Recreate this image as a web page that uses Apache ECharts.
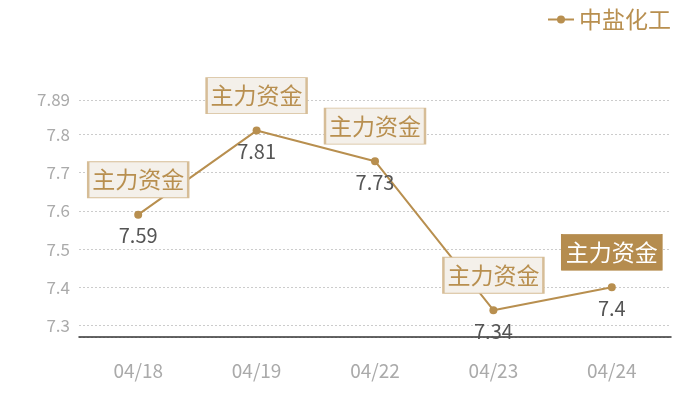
<!DOCTYPE html>
<html>
<head>
<meta charset="utf-8">
<script src="https://cdn.jsdelivr.net/npm/echarts@6/dist/echarts.min.js"></script>
<style>html,body{margin:0;padding:0;background:#fff;}#c{width:700px;height:400px;}</style>
</head>
<body>
<div id="c"></div>
<script>
var seriesName = '中盐化工';
var categories = ['04/18', '04/19', '04/22', '04/23', '04/24'];
var prices = [7.59, 7.81, 7.73, 7.34, 7.4];
var tags = ['主力资金', '主力资金', '主力资金', '主力资金', '主力资金'];
var yMin = 7.27;
var yMax = 7.89;

var gold = '#b88f4f';
var font = '"Noto Sans CJK SC", "Noto Sans", sans-serif';

var markData = categories.map(function (c, i) {
  var last = i === categories.length - 1;
  return {
    coord: [c, prices[i]],
    value: tags[i],
    itemStyle: last
      ? { color: '#b58c4e', borderColor: '#b58c4e', borderWidth: 1 }
      : { color: '#f4f0ea', borderColor: '#d6bd97', borderWidth: 1.5 },
    label: { color: last ? '#ffffff' : gold }
  };
});

var chart = echarts.init(document.getElementById('c'));
chart.setOption({
  animation: false,
  textStyle: { fontFamily: font },
  legend: {
    right: 24, top: 3,
    itemWidth: 26, itemHeight: 10, itemGap: 8,
    textStyle: { fontSize: 23, color: gold, fontFamily: font },
    data: [seriesName]
  },
  grid: { left: 79, right: 29, top: 100, bottom: 63, containLabel: false },
  xAxis: {
    type: 'category',
    data: categories,
    boundaryGap: true,
    axisLine: { lineStyle: { color: '#333', width: 1.5 } },
    axisTick: { show: false },
    axisLabel: { color: '#aaaaaa', fontSize: 19, margin: 24, fontFamily: font }
  },
  yAxis: {
    type: 'value',
    min: yMin, max: yMax,
    axisLine: { show: false },
    axisTick: { show: false },
    axisLabel: { color: '#aaaaaa', fontSize: 17, margin: 9, showMinLabel: false, fontFamily: font },
    splitLine: { lineStyle: { color: '#cccccc', type: [2, 2], width: 1 } }
  },
  series: [{
    name: seriesName,
    type: 'line',
    data: prices,
    symbol: 'circle',
    symbolSize: 8,
    itemStyle: { color: gold },
    lineStyle: { color: gold, width: 2 },
    label: {
      show: true, position: 'bottom', distance: 7,
      fontSize: 20, color: '#555555', fontFamily: font
    },
    markPoint: {
      symbol: 'rect',
      symbolSize: [100, 36],
      symbolOffset: [0, -35],
      label: { show: true, formatter: function (p) { return p.value; }, fontSize: 23, fontFamily: font },
      data: markData
    }
  }]
});
</script>
</body>
</html>
